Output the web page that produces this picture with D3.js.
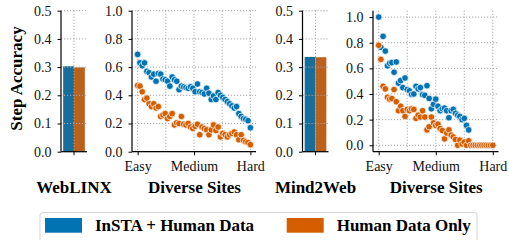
<!DOCTYPE html>
<html><head><meta charset="utf-8">
<script src="https://cdn.jsdelivr.net/npm/d3@7"></script>
<style>
body{margin:0;background:#fff;}
text{font-family:"Liberation Serif","Times New Roman",serif;}
</style></head>
<body>
<script>
// ---------- data ----------
const seriesNames = ["InSTA + Human Data", "Human Data Only"];
const panelTitles = ["WebLINX", "Diverse Sites", "Mind2Web", "Diverse Sites"];
const difficultyLabels = ["Easy", "Medium", "Hard"];
const barTicks = [0.0, 0.1, 0.2, 0.3, 0.4, 0.5];
const scatterTicks = [0.0, 0.2, 0.4, 0.6, 0.8, 1.0];

const weblinxBars = [0.303, 0.299];
const mind2webBars = [0.336, 0.335];

const weblinxSitesInsta = [0.69,0.63,0.61,0.63,0.57,0.56,0.53,0.55,0.50,0.555,
  0.55,0.515,0.51,0.50,0.465,0.53,0.51,0.50,0.44,0.465,
  0.46,0.455,0.45,0.46,0.45,0.425,0.48,0.425,0.42,0.41,
  0.45,0.415,0.37,0.395,0.37,0.42,0.40,0.385,0.37,0.355,
  0.34,0.325,0.31,0.32,0.27,0.25,0.235,0.23,0.22,0.17];
const weblinxSitesHuman = [0.47,0.465,0.425,0.37,0.38,0.34,0.32,0.34,0.31,0.32,
  0.25,0.26,0.27,0.235,0.25,0.27,0.19,0.205,0.20,0.25,
  0.195,0.19,0.20,0.175,0.165,0.18,0.195,0.12,0.175,0.165,
  0.155,0.12,0.155,0.19,0.15,0.175,0.105,0.13,0.12,0.105,
  0.12,0.13,0.14,0.12,0.085,0.12,0.08,0.07,0.065,0.05];

const m2wSitesInsta = [1.0,0.765,0.85,0.735,0.62,0.64,0.645,0.57,0.65,0.485,
  0.505,0.45,0.525,0.435,0.425,0.397,0.40,0.46,0.44,0.45,
  0.395,0.39,0.465,0.365,0.285,0.32,0.36,0.305,0.27,0.285,
  0.29,0.27,0.215,0.27,0.28,0.25,0.235,0.225,0.20,0.21,
  0.155,0.12,0,0,0,0,0,0,0,0,0,0,0];
const m2wSitesHuman = [0.78,0.67,0.46,0.44,0.375,0.36,0.365,0.435,0.34,0.27,
  0.305,0.27,0.225,0.28,0.27,0.285,0.28,0.21,0.235,0.22,
  0.27,0.22,0.12,0.145,0.22,0.175,0.155,0.165,0.13,0.115,
  0.05,0.095,0.12,0.08,0.065,0.045,0,0.04,0.01,0.025,
  0,0.035,0,0,0,0,0,0,0,0,0,0,0];

// ---------- style ----------
const pointColors = ["#0173b2", "#d55e00"];
const barColors = ["#176d9c", "#ba611b"];
const W = 509, H = 240;
const plotTop = 10.7, plotBottom = 151.7;
const gridColor = "#a8a8a8";

const svg = d3.select("body").append("svg").attr("width", W).attr("height", H);

function styleAxis(g) {
  g.selectAll(".domain").remove();
  g.selectAll(".tick line").attr("stroke", "#000").attr("stroke-width", 1);
  g.selectAll(".tick text").attr("font-size", 14).attr("fill", "#111")
    .style("font-family", '"Liberation Serif","Times New Roman",serif');
}

function spines(g, left, right) {
  g.append("line").attr("x1", left).attr("x2", left).attr("y1", plotTop).attr("y2", plotBottom)
    .attr("stroke", "#000").attr("stroke-width", 1.2);
  g.append("line").attr("x1", left).attr("x2", right).attr("y1", plotBottom).attr("y2", plotBottom)
    .attr("stroke", "#000").attr("stroke-width", 1.2);
}

function yAxis(g, y, left, right, ticks) {
  g.append("g").selectAll("line").data(ticks).join("line")
    .attr("x1", left).attr("x2", right).attr("y1", d => y(d)).attr("y2", d => y(d))
    .attr("stroke", gridColor).attr("stroke-width", 1).attr("stroke-dasharray", "1.2,1.8");
  const ax = g.append("g").attr("transform", `translate(${left},0)`)
    .call(d3.axisLeft(y).tickValues(ticks).tickFormat(d3.format(".1f")).tickSize(3.5).tickPadding(6));
  styleAxis(ax);
}

function barPanel(g, left, right, values, title) {
  const y = d3.scaleLinear().domain([0, 0.5]).range([plotBottom, plotTop]);
  const outer = d3.scaleBand().domain([title]).range([left, right]).paddingOuter(0.1).paddingInner(0);
  const inner = d3.scaleBand().domain(seriesNames).range([outer(title), outer(title) + outer.bandwidth()]);
  g.selectAll("rect.bar").data(values).join("rect").attr("class", "bar")
    .attr("x", (d, i) => inner(seriesNames[i])).attr("width", inner.bandwidth())
    .attr("y", d => y(d)).attr("height", d => y(0) - y(d))
    .attr("fill", (d, i) => barColors[i]);
  yAxis(g, y, left, right, barTicks);
  const cx = outer(title) + outer.bandwidth() / 2;
  g.append("line").attr("x1", cx).attr("x2", cx).attr("y1", plotTop).attr("y2", plotBottom)
    .attr("stroke", gridColor).attr("stroke-width", 1).attr("stroke-dasharray", "1.2,1.8");
  g.append("line").attr("x1", cx).attr("x2", cx).attr("y1", plotBottom).attr("y2", plotBottom + 3.5)
    .attr("stroke", "#000");
  spines(g, left, right);
  g.append("text").attr("x", (left + right) / 2).attr("y", 193).attr("text-anchor", "middle")
    .attr("font-size", 17).attr("font-weight", "bold").text(title);
}

function scatterPanel(g, left, right, ser, yDomain, title) {
  const n = ser[0].length;
  const pad = (n - 1) * 0.05;
  const x = d3.scaleLinear().domain([-pad, n - 1 + pad]).range([left, right]);
  const y = d3.scaleLinear().domain(yDomain).range([plotBottom, plotTop]);
  yAxis(g, y, left, right, scatterTicks);
  const vGrid = [0, 0.25, 0.5, 0.75, 1].map(f => f * (n - 1));
  g.append("g").selectAll("line").data(vGrid).join("line")
    .attr("x1", d => x(d)).attr("x2", d => x(d)).attr("y1", plotTop).attr("y2", plotBottom)
    .attr("stroke", gridColor).attr("stroke-width", 1).attr("stroke-dasharray", "1.2,1.8");
  const xt = [0, (n - 1) / 2, n - 1];
  const ax = g.append("g").attr("transform", `translate(0,${plotBottom})`)
    .call(d3.axisBottom(x).tickValues(xt).tickFormat((d, i) => difficultyLabels[i]).tickSize(3.5).tickPadding(6));
  styleAxis(ax);
  ser.forEach((vals, si) => {
    g.append("g").selectAll("circle").data(vals).join("circle")
      .attr("cx", (d, i) => x(i)).attr("cy", d => y(d)).attr("r", 3.3)
      .attr("fill", pointColors[si]).attr("stroke", "#fff").attr("stroke-width", 0.7);
  });
  spines(g, left, right);
  g.append("text").attr("x", (left + right) / 2 + 0.5).attr("y", 193).attr("text-anchor", "middle")
    .attr("font-size", 17).attr("font-weight", "bold").text(title);
}

barPanel(svg.append("g"), 61, 87, weblinxBars, panelTitles[0]);
scatterPanel(svg.append("g"), 132, 256, [weblinxSitesInsta, weblinxSitesHuman], [0, 1.0], panelTitles[1]);
barPanel(svg.append("g"), 302.5, 328.5, mind2webBars, panelTitles[2]);
scatterPanel(svg.append("g"), 373, 498.5, [m2wSitesInsta, m2wSitesHuman], [-0.05, 1.05], panelTitles[3]);

svg.append("text").attr("transform", "translate(22,78.5) rotate(-90)").attr("text-anchor", "middle")
  .attr("font-size", 17).attr("font-weight", "bold").text("Step Accuracy");

const lg = svg.append("g");
lg.append("rect").attr("x", 40).attr("y", 212.5).attr("width", 437).attr("height", 40).attr("rx", 3)
  .attr("fill", "#fff").attr("stroke", "#d4d4d4").attr("stroke-width", 1);
const legendX = [45, 286.7];
seriesNames.forEach((name, i) => {
  lg.append("rect").attr("x", legendX[i]).attr("y", 218).attr("width", 37).attr("height", 14.7)
    .attr("fill", pointColors[i]);
  lg.append("text").attr("x", legendX[i] + 50).attr("y", 231).attr("font-size", 17)
    .attr("font-weight", "bold").text(name);
});
</script>
</body></html>
